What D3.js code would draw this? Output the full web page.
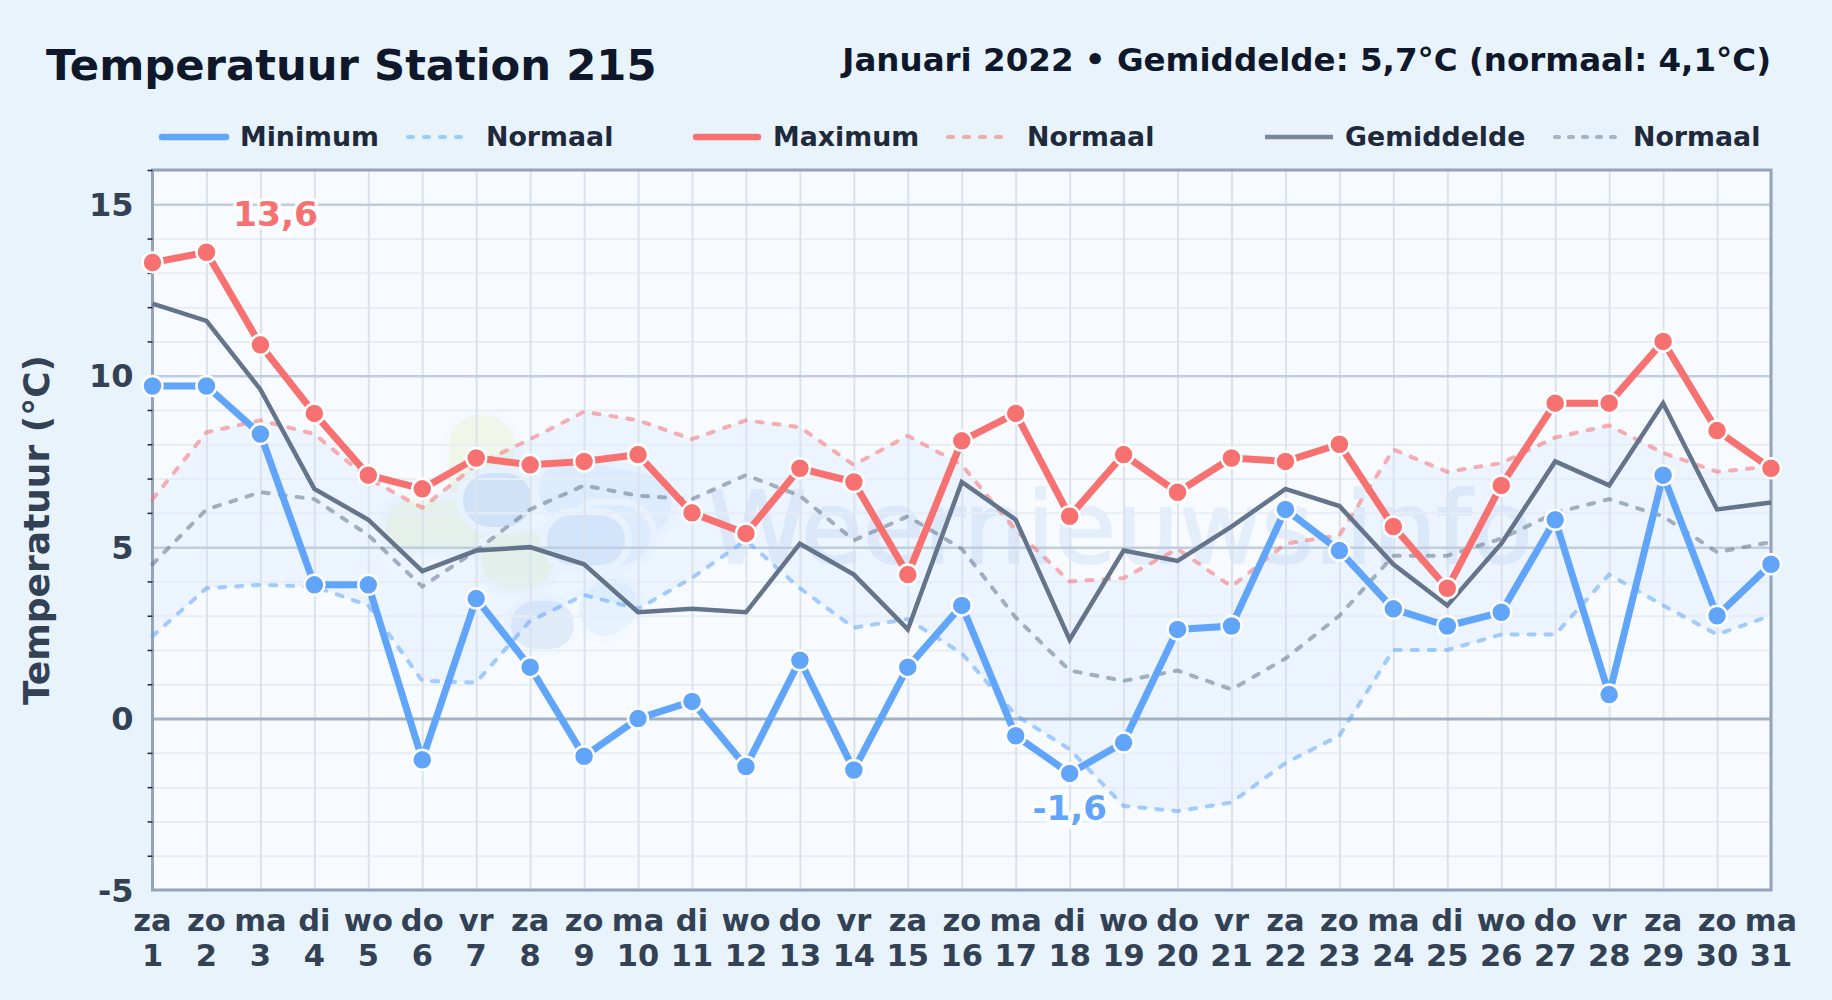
<!DOCTYPE html>
<html>
<head>
<meta charset="utf-8">
<script src="https://cdn.jsdelivr.net/npm/d3@7"></script>
<style>
  html, body { margin: 0; padding: 0; background: #e8f3fc; }
  svg { display: block; font-family: "DejaVu Sans", sans-serif; font-weight: bold; }
</style>
</head>
<body>
<div id="chart"></div>
<script>
// data
var dayNames = ["za","zo","ma","di","wo","do","vr","za","zo","ma","di","wo","do","vr","za","zo","ma","di","wo","do","vr","za","zo","ma","di","wo","do","vr","za","zo","ma"];
var days = d3.range(1, 32);
var tempMin = [9.7,9.7,8.3,3.9,3.9,-1.2,3.5,1.5,-1.1,0,0.5,-1.4,1.7,-1.5,1.5,3.3,-0.5,-1.6,-0.7,2.6,2.7,6.1,4.9,3.2,2.7,3.1,5.8,0.7,7.1,3.0,4.5];
var tempMax = [13.3,13.6,10.9,8.9,7.1,6.7,7.6,7.4,7.5,7.7,6.0,5.4,7.3,6.9,4.2,8.1,8.9,5.9,7.7,6.6,7.6,7.5,8.0,5.6,3.8,6.8,9.2,9.2,11.0,8.4,7.3];
var tempAvg = [12.1,11.6,9.6,6.7,5.8,4.3,4.9,5.0,4.5,3.1,3.2,3.1,5.1,4.2,2.6,6.9,5.8,2.3,4.9,4.6,5.6,6.7,6.2,4.5,3.3,5.1,7.5,6.8,9.2,6.1,6.3];
var normMin = [2.4,3.8,3.9,3.85,3.3,1.1,1.05,2.85,3.6,3.2,4.1,5.2,3.8,2.65,2.9,1.9,0.1,-0.9,-2.55,-2.7,-2.45,-1.3,-0.5,2.0,2.0,2.45,2.45,4.2,3.3,2.45,3.0];
var normMax = [6.4,8.35,8.7,8.3,7.0,6.15,7.4,8.15,8.95,8.7,8.15,8.7,8.5,7.4,8.25,7.4,5.5,4.0,4.1,4.95,3.85,5.1,5.35,7.85,7.2,7.45,8.2,8.55,7.75,7.2,7.35];
var normAvg = [4.5,6.1,6.6,6.4,5.35,3.85,4.9,6.1,6.8,6.5,6.4,7.1,6.5,5.2,5.9,4.95,2.95,1.4,1.1,1.4,0.85,1.75,3.0,4.75,4.75,5.25,6.0,6.4,5.9,4.85,5.15];
var majorTicks = [-5,0,5,10,15];
var minorTicks = [-4,-3,-2,-1,1,2,3,4,6,7,8,9,11,12,13,14,16];

var blue = "#60a5fa", red = "#f87171", slate = "#64748b";

var svgWidth = 1832, svgHeight = 1000;
var margin = {top: 170, right: 61, bottom: 110, left: 152.5},
    width = svgWidth - margin.left - margin.right,
    height = svgHeight - margin.top - margin.bottom;

var root = d3.select("#chart").append("svg")
    .attr("width", svgWidth)
    .attr("height", svgHeight);

root.append("rect").attr("width", svgWidth).attr("height", svgHeight).attr("fill", "#e8f3fc");

// title and subtitle
root.append("text").attr("x", 46).attr("y", 80)
  .attr("font-size", 43.3).attr("fill", "#0f172a").text("Temperatuur Station 215");
root.append("text").attr("x", 1771).attr("y", 71).attr("text-anchor", "end")
  .attr("font-size", 32.5).attr("fill", "#0f172a").text("Januari 2022 • Gemiddelde: 5,7°C (normaal: 4,1°C)");

// legend
var legendItems = [
  {label: "Minimum",    x1: 162,  x2: 226,  tx: 240,  color: blue,  w: 6.5, dash: null,  op: 1, cap: "round"},
  {label: "Normaal",    x1: 408,  x2: 464,  tx: 486,  color: blue,  w: 4, dash: "5,11", op: 0.55, cap: "round"},
  {label: "Maximum",    x1: 696,  x2: 758,  tx: 773,  color: red,   w: 6.5, dash: null,  op: 1, cap: "round"},
  {label: "Normaal",    x1: 948,  x2: 1004, tx: 1027, color: red,   w: 4, dash: "5,11", op: 0.55, cap: "round"},
  {label: "Gemiddelde", x1: 1265, x2: 1333, tx: 1345, color: "#78869a", w: 4.5, dash: null, op: 1, cap: "butt"},
  {label: "Normaal",    x1: 1555, x2: 1618, tx: 1633, color: "#94a3b8", w: 4, dash: "4,10", op: 0.8, cap: "round"}
];
var legend = root.append("g").selectAll("g").data(legendItems).join("g");
legend.append("line")
  .attr("x1", d => d.x1).attr("x2", d => d.x2).attr("y1", 137).attr("y2", 137)
  .attr("stroke", d => d.color).attr("stroke-width", d => d.w)
  .attr("stroke-dasharray", d => d.dash).attr("stroke-linecap", d => d.cap).attr("opacity", d => d.op);
legend.append("text")
  .attr("x", d => d.tx).attr("y", 146).attr("font-size", 26.8).attr("fill", "#1e293b")
  .text(d => d.label);

var svg = root.append("g").attr("transform", "translate(" + margin.left + "," + margin.top + ")");

var x = d3.scalePoint().domain(days).range([0, width]);
var y = d3.scaleLinear().domain([-5, 16]).range([height, 0]);

svg.append("rect").attr("width", width).attr("height", height).attr("fill", "#f7fbff");

// watermark behind everything, logo is a few soft blobs (page coordinates)
var wm = svg.append("g")
  .attr("transform", "translate(" + (-margin.left) + "," + (-margin.top) + ")")
  .attr("fill", "none").attr("stroke-linecap", "round").attr("stroke-linejoin", "round");
var blobs = [
  ["M 482 447 L 482 505", "#f0f7ea", 66],
  ["M 410 525 L 470 525", "#f0f7ea", 50],
  ["M 510 560 L 525 560", "#edf6ea", 58],
  ["M 570 490 L 640 505", "#e6f2fe", 62],
  ["M 600 535 L 620 535", "#e6f2fe", 60],
  ["M 572 540 L 600 540", "#dcebfa", 50],
  ["M 490 500 L 505 500", "#d9e8f8", 54],
  ["M 605 610 L 612 605", "#e6f3fe", 52],
  ["M 535 625 L 550 625", "#e0ebf9", 48]
];
blobs.forEach(function(b) {
  wm.append("path").attr("d", b[0]).attr("stroke", "#f4f9ff").attr("stroke-width", b[2] + 14);
  wm.append("path").attr("d", b[0]).attr("stroke", b[1]).attr("stroke-width", b[2]);
});
wm.append("text").attr("x", 708).attr("y", 563).attr("font-size", 100).attr("font-weight", "normal")
  .attr("fill", "#e4eefa").attr("stroke", "#e4eefa").attr("stroke-width", 2).text("Weernieuws.info");

// band between normal min and normal max
var band = d3.area()
  .x((d, i) => x(days[i]))
  .y0((d, i) => y(normMin[i]))
  .y1((d, i) => y(normMax[i]));
svg.append("path").datum(days).attr("d", band).attr("fill", blue).attr("fill-opacity", 0.08);

// grid
svg.append("g")
  .call(d3.axisLeft(y).tickValues(minorTicks).tickSize(-width).tickFormat(""))
  .call(g => g.select(".domain").remove())
  .selectAll("line").attr("stroke", "#e7edf4").attr("stroke-width", 2);
svg.append("g")
  .call(d3.axisBottom(x).tickValues(days).tickSize(height).tickFormat(""))
  .call(g => g.select(".domain").remove())
  .selectAll("line").attr("stroke", "#dbe2ec").attr("stroke-width", 2);
svg.append("g")
  .call(d3.axisLeft(y).tickValues([5, 10, 15]).tickSize(-width).tickFormat(""))
  .call(g => g.select(".domain").remove())
  .selectAll("line").attr("stroke", "#bfcde0").attr("stroke-width", 2.5);
svg.append("g")
  .call(d3.axisLeft(y).tickValues([0]).tickSize(-width).tickFormat(""))
  .call(g => g.select(".domain").remove())
  .selectAll("line").attr("stroke", "#a3afc2").attr("stroke-width", 3);

// frame
svg.append("rect").attr("width", width).attr("height", height)
  .attr("fill", "none").attr("stroke", "#94a3b8").attr("stroke-width", 3);

// small ticks left of frame
svg.append("g")
  .call(d3.axisLeft(y).tickValues(minorTicks).tickSize(5).tickFormat(""))
  .call(g => g.select(".domain").remove())
  .selectAll("line").attr("stroke", "#1e293b").attr("stroke-width", 1.5);

// y tick labels
svg.append("g")
  .call(d3.axisLeft(y).tickValues(majorTicks).tickSize(0).tickPadding(19).tickFormat(d => String(d)))
  .call(g => g.select(".domain").remove())
  .selectAll("text")
    .attr("font-family", "DejaVu Sans").attr("font-weight", "bold")
    .attr("font-size", 32).attr("fill", "#334155").attr("dy", "0.35em");

// x tick labels, day name and number
var xLabels = svg.append("g").selectAll("g").data(days).join("g")
  .attr("transform", d => "translate(" + x(d) + "," + height + ")")
  .attr("text-anchor", "middle").attr("font-size", 30.5).attr("fill", "#334155");
xLabels.append("text").attr("y", 41).text((d, i) => dayNames[i]);
xLabels.append("text").attr("y", 76).text(d => d);

// y axis title
svg.append("text")
  .attr("transform", "translate(" + (-104) + "," + (height / 2) + ") rotate(-90)")
  .attr("text-anchor", "middle").attr("font-size", 36).attr("fill", "#334155")
  .text("Temperatuur (°C)");

function lineOf(values) {
  return d3.line().x((d, i) => x(days[i])).y(d => y(d))(values);
}

// normal lines
[[normMin, blue, 0.55], [normMax, red, 0.55], [normAvg, "#64748b", 0.55]].forEach(function(n) {
  svg.append("path").attr("d", lineOf(n[0])).attr("fill", "none")
    .attr("stroke", n[1]).attr("stroke-opacity", n[2]).attr("stroke-width", 4)
    .attr("stroke-dasharray", "6,11").attr("stroke-linecap", "round");
});

// average, min and max
svg.append("path").attr("d", lineOf(tempAvg)).attr("fill", "none").attr("stroke", slate).attr("stroke-width", 4.5);
svg.append("path").attr("d", lineOf(tempMin)).attr("fill", "none").attr("stroke", blue).attr("stroke-width", 7).attr("stroke-linejoin", "round");
svg.append("path").attr("d", lineOf(tempMax)).attr("fill", "none").attr("stroke", red).attr("stroke-width", 7).attr("stroke-linejoin", "round");

[[tempMin, blue], [tempMax, red]].forEach(function(s) {
  svg.append("g").selectAll("circle").data(s[0]).join("circle")
    .attr("cx", (d, i) => x(days[i])).attr("cy", d => y(d)).attr("r", 10)
    .attr("fill", s[1]).attr("stroke", "#fff").attr("stroke-width", 2.5);
});

// extreme labels
var maxIdx = d3.maxIndex(tempMax), minIdx = d3.minIndex(tempMin);
function fmt(v) { return String(v).replace(".", ","); }
svg.append("text").attr("x", x(days[maxIdx]) + 69).attr("y", y(tempMax[maxIdx]) - 26)
  .attr("text-anchor", "middle").attr("font-size", 34.5).attr("fill", red)
  .attr("stroke", "#fff").attr("stroke-width", 7).attr("paint-order", "stroke").attr("stroke-opacity", 0.85)
  .text(fmt(tempMax[maxIdx]));
svg.append("text").attr("x", x(days[minIdx])).attr("y", y(tempMin[minIdx]) + 47)
  .attr("text-anchor", "middle").attr("font-size", 34).attr("fill", blue)
  .attr("stroke", "#fff").attr("stroke-width", 7).attr("paint-order", "stroke").attr("stroke-opacity", 0.85)
  .text(fmt(tempMin[minIdx]));
</script>
</body>
</html>
